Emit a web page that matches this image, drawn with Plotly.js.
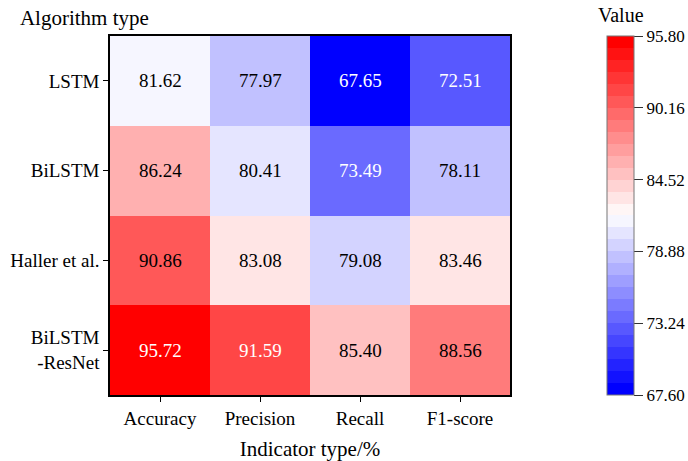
<!DOCTYPE html>
<html>
<head>
<meta charset="utf-8">
<script src="https://cdn.plot.ly/plotly-3.0.1.min.js"></script>
<style>html,body{margin:0;padding:0;background:#fff;}#chart{width:688px;height:461px;}</style>
</head>
<body>
<div id="chart"></div>
<script>
// ---- data ----
var indicators = ["Accuracy", "Precision", "Recall", "F1-score"];
var algorithms = ["LSTM", "BiLSTM", "Haller et al.", "BiLSTM<br>-ResNet"];
var lstm        = [81.62, 77.97, 67.65, 72.51];
var bilstm      = [86.24, 80.41, 73.49, 78.11];
var haller      = [90.86, 83.08, 79.08, 83.46];
var bilstmResnet= [95.72, 91.59, 85.40, 88.56];
var zRange = [67.60, 95.80];
var cbTicks = [67.60, 73.24, 78.88, 84.52, 90.16, 95.80];
var whiteText = [[false,false,true,true],[false,false,true,false],[false,false,false,false],[true,true,false,false]];

var z = [lstm, bilstm, haller, bilstmResnet];

// ---- stepped blue-white-red colorscale (30 bands) ----
var nBands = 30;
function bandColor(t){
  var r,g,b;
  if (t < 0.5){ var f = t/0.5; r = Math.round(255*f); g = r; b = 255; }
  else { var f2 = (1-t)/0.5; r = 255; g = Math.round(255*f2); b = g; }
  return 'rgb('+r+','+g+','+b+')';
}
var cs = [];
for (var i=0;i<nBands;i++){
  var c = bandColor(i/(nBands-1));
  cs.push([i/nBands, c]);
  cs.push([(i+1)/nBands, c]);
}

var serif = "'Liberation Serif', 'Times New Roman', serif";

var ann = [];
for (var r=0;r<algorithms.length;r++){
  for (var k=0;k<indicators.length;k++){
    ann.push({x: indicators[k], y: algorithms[r], xref:'x', yref:'y',
      text: z[r][k].toFixed(2), showarrow:false,
      font:{family:serif, size:19, color: whiteText[r][k] ? '#ffffff' : '#000000'}});
  }
}
ann.push({text:'Value', xref:'paper', yref:'paper', x:1.2425+27/400/2, y:1, yshift:21,
  xanchor:'center', yanchor:'middle', showarrow:false, font:{family:serif,size:20,color:'#000'}});

var trace = {
  type:'heatmap', x: indicators, y: algorithms, z: z,
  zmin: zRange[0], zmax: zRange[1], colorscale: cs, xgap:0, ygap:0,
  hoverinfo:'skip',
  colorbar:{
    x: 1.2425, xanchor:'left', xpad:0, ypad:0, y:0.5, yanchor:'middle',
    len:1, lenmode:'fraction', thickness:27, thicknessmode:'pixels',
    outlinewidth:1, outlinecolor:'#777',
    tickmode:'array', tickvals: cbTicks, ticktext: cbTicks.map(function(v){return v.toFixed(2);}),
    ticks:'outside', ticklen:9, tickwidth:1, tickcolor:'#333',
    tickfont:{family:serif, size:17, color:'#000'}
  }
};

var layout = {
  width:688, height:461,
  font:{family:serif, color:'#000'},
  margin:{l:110, r:178, t:36, b:66, autoexpand:false},
  paper_bgcolor:'#fff', plot_bgcolor:'#fff',
  title:{text:'Algorithm type', xref:'container', yref:'container', x:0.029, xanchor:'left',
    y:1-18/461, yanchor:'middle', font:{family:serif, size:21, color:'#000'}},
  xaxis:{type:'category', showline:true, mirror:true, linecolor:'#000', linewidth:1.5,
    ticks:'outside', ticklen:5, tickwidth:1, tickcolor:'#000', showgrid:false, zeroline:false,
    automargin:false,
    tickfont:{family:serif, size:19, color:'#000'},
    title:{text:'Indicator type/%', font:{family:serif, size:21, color:'#000'}, standoff:14}},
  yaxis:{type:'category', autorange:'reversed', showline:true, mirror:true, linecolor:'#000', linewidth:1.5,
    ticks:'outside', ticklen:5, tickwidth:1, tickcolor:'#000', showgrid:false, zeroline:false,
    automargin:false,
    tickfont:{family:serif, size:19, color:'#000'}},
  annotations: ann
};

Plotly.newPlot('chart', [trace], layout, {displayModeBar:false});
</script>
</body>
</html>
